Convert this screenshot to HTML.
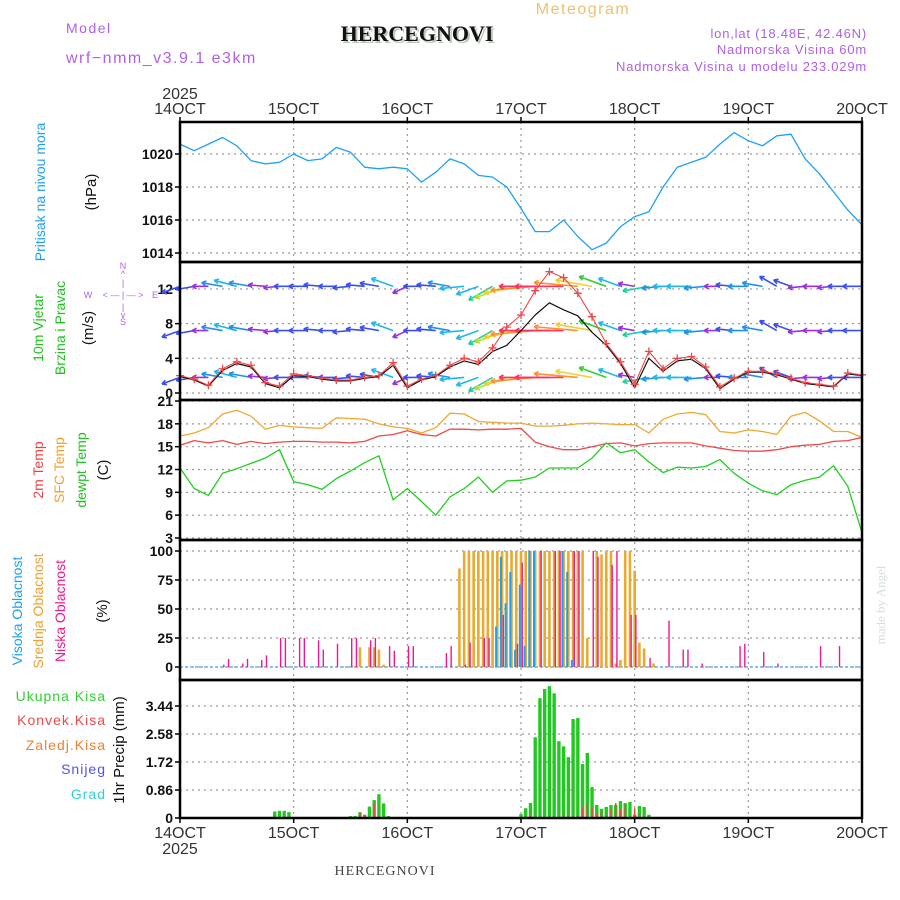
<!DOCTYPE html>
<html><head><meta charset="utf-8"><style>
body{margin:0;background:#fff;}
svg{display:block;font-family:"Liberation Sans",sans-serif;}
</style></head><body>
<svg id="chart" width="900" height="900" viewBox="0 0 900 900" xmlns="http://www.w3.org/2000/svg">
<rect x="0" y="0" width="900" height="900" fill="#fff"/>
<g id="texts">
<text x="66" y="33" font-size="14" fill="#b060e8" letter-spacing="1.5">Model</text>
<text x="66" y="63" font-size="16" fill="#b060e8" letter-spacing="1.5">wrf−nmm_v3.9.1 e3km</text>
<text x="419" y="43" font-size="22" font-weight="bold" font-family="Liberation Serif,serif" fill="#b8c8b8" text-anchor="middle">HERCEGNOVI</text>
<text x="417" y="41" font-size="22" font-weight="bold" font-family="Liberation Serif,serif" fill="#111" text-anchor="middle">HERCEGNOVI</text>
<text x="583" y="14" font-size="16" fill="#f0c070" text-anchor="middle" letter-spacing="1.5">Meteogram</text>
<text x="867" y="38" font-size="13" fill="#b060e8" text-anchor="end" letter-spacing="0.8">lon,lat (18.48E, 42.46N)</text>
<text x="867" y="54" font-size="13" fill="#b060e8" text-anchor="end" letter-spacing="0.8">Nadmorska Visina 60m</text>
<text x="867" y="71" font-size="13" fill="#b060e8" text-anchor="end" letter-spacing="0.8">Nadmorska Visina u modelu 233.029m</text>
<text x="180" y="99" font-size="16" fill="#333" text-anchor="middle">2025</text>
<text x="180" y="854" font-size="16" fill="#333" text-anchor="middle">2025</text>
<text x="385" y="875" font-size="14" font-family="Liberation Serif,serif" fill="#444" text-anchor="middle" letter-spacing="1">HERCEGNOVI</text>
<text transform="translate(885,605) rotate(-90)" font-size="13" font-family="Liberation Serif,serif" fill="#d8e0d8" text-anchor="middle">made by Angel</text>

<text transform="translate(45,192) rotate(-90)" font-size="14" fill="#20a0f0" text-anchor="middle">Pritisak na nivou mora</text>
<text transform="translate(96,192) rotate(-90)" font-size="15" fill="#111" text-anchor="middle">(hPa)</text>

<text transform="translate(43,328) rotate(-90)" font-size="14" fill="#20c020" text-anchor="middle">10m Vjetar</text>
<text transform="translate(65,328) rotate(-90)" font-size="14" fill="#20c020" text-anchor="middle">Brzina i Pravac</text>
<text transform="translate(93,328) rotate(-90)" font-size="15" fill="#111" text-anchor="middle">(m/s)</text>
<g fill="#b060e8" font-size="9" text-anchor="middle">
<text x="123" y="269">N</text><text x="123" y="277">^</text><text x="123" y="286">|</text>
<text x="88" y="298">W</text><text x="123" y="298">&lt; — | — &gt;</text><text x="155" y="298">E</text>
<text x="123" y="310">|</text><text x="123" y="318">v</text><text x="123" y="325">S</text>
</g>

<text transform="translate(43,470) rotate(-90)" font-size="14" fill="#f04040" text-anchor="middle">2m Temp</text>
<text transform="translate(64,470) rotate(-90)" font-size="14" fill="#f0a030" text-anchor="middle">SFC Temp</text>
<text transform="translate(86,470) rotate(-90)" font-size="14" fill="#20c020" text-anchor="middle">dewpt Temp</text>
<text transform="translate(108,470) rotate(-90)" font-size="15" fill="#111" text-anchor="middle">(C)</text>

<text transform="translate(22,611) rotate(-90)" font-size="14" fill="#20a0f0" text-anchor="middle">Visoka Oblacnost</text>
<text transform="translate(43,611) rotate(-90)" font-size="14" fill="#f0a030" text-anchor="middle">Srednja Oblacnost</text>
<text transform="translate(65,611) rotate(-90)" font-size="14" fill="#f01890" text-anchor="middle">Niska Oblacnost</text>
<text transform="translate(107,611) rotate(-90)" font-size="15" fill="#111" text-anchor="middle">(%)</text>

<g font-size="14" text-anchor="end" letter-spacing="1">
<text x="106" y="701" fill="#30d030">Ukupna Kisa</text>
<text x="106" y="725" fill="#f04848">Konvek.Kisa</text>
<text x="106" y="750" fill="#f08030">Zaledj.Kisa</text>
<text x="106" y="774" fill="#5050f0">Snijeg</text>
<text x="106" y="799" fill="#30d0d0">Grad</text>
</g>
<text transform="translate(124,750) rotate(-90)" font-size="15" fill="#111" text-anchor="middle">1hr Precip (mm)</text>
</g>
<g id="grid"></g>
<g id="marks"></g>
<g id="frames"></g>
</svg>
<script>
// ---------- data ----------
const dayLabels = ["14OCT","15OCT","16OCT","17OCT","18OCT","19OCT","20OCT"];
const pressTicks = [1014,1016,1018,1020];
const windTicks = [0,4,8,12];
const tempTicks = [3,6,9,12,15,18,21];
const cloudTicks = [0,25,50,75,100];
const precipTicks = [0,0.86,1.72,2.58,3.44];
// 3-hourly series (hour 0..144)
const pressure = [1020.6,1020.2,1020.6,1021.0,1020.5,1019.6,1019.4,1019.5,1020.0,1019.6,1019.7,1020.4,1020.1,1019.2,1019.1,1019.2,1019.1,1018.3,1018.9,1019.7,1019.4,1018.7,1018.6,1018.0,1016.7,1015.3,1015.3,1016.0,1015.0,1014.2,1014.6,1015.6,1016.2,1016.5,1018.0,1019.2,1019.5,1019.8,1020.6,1021.3,1020.8,1020.5,1021.1,1021.2,1019.7,1018.8,1017.7,1016.6,1015.7];
const windSpeed = [2.0,1.6,0.9,2.8,3.6,3.2,1.2,0.8,2.2,2.0,1.7,1.5,1.5,1.8,2.0,3.5,0.8,1.6,2.0,3.2,4.0,3.6,5.2,7.6,9.0,11.8,14.0,13.3,11.5,8.8,5.7,3.6,1.0,4.8,2.8,4.0,4.2,3.0,0.7,1.7,2.5,2.5,2.2,1.7,1.2,1.0,0.8,2.3,2.1];
const windSpeed2 = [1.9,1.5,0.8,2.6,3.4,3.0,1.1,0.6,2.0,1.9,1.6,1.4,1.4,1.7,1.9,3.2,0.6,1.5,1.9,3.0,3.7,3.3,4.8,5.5,7.2,9.0,10.4,9.6,8.9,7.0,5.5,3.4,0.6,4.0,2.5,3.7,3.9,2.8,0.5,1.6,2.4,2.4,2.1,1.6,1.1,0.9,0.7,2.2,2.0];
const windDir = [200,190,180,170,165,170,175,185,180,180,175,180,185,175,170,160,205,180,175,170,185,200,210,200,190,185,180,180,175,170,160,160,170,190,185,180,180,185,180,175,180,170,150,160,185,180,185,180,180];
const temp2m = [15.2,15.8,15.5,15.8,15.3,15.7,15.4,15.6,15.7,15.7,15.6,15.6,15.5,15.7,16.4,16.6,17.1,16.6,16.4,17.3,17.3,17.2,17.3,17.3,17.4,15.6,15.0,14.6,14.6,15.0,15.4,15.5,15.1,15.4,15.5,15.5,15.5,15.1,14.8,14.5,14.4,14.4,14.6,15.0,15.2,15.3,15.7,15.8,16.2];
const tempSfc = [16.4,16.8,17.5,19.3,19.8,19.0,17.3,17.8,17.6,17.5,17.4,18.8,18.7,18.6,18.0,17.6,17.4,16.8,17.5,19.4,19.3,18.3,18.2,18.1,18.1,17.7,17.7,17.8,18.0,18.1,18.0,17.9,17.9,16.8,18.6,19.3,19.5,19.2,17.0,16.8,17.2,17.0,16.6,19.0,19.5,18.4,17.0,17.0,16.2];
const dewpt = [12.2,9.5,8.6,11.5,12.1,12.8,13.5,14.6,10.4,10.0,9.4,10.8,11.8,12.9,13.8,8.0,9.5,7.8,6.0,8.4,9.5,11.0,9.0,10.5,10.6,11.0,12.2,12.2,12.2,13.5,15.5,14.2,14.6,13.0,11.6,12.3,12.2,12.4,13.3,11.5,10.2,9.2,8.7,10.0,10.6,11.0,12.5,9.8,3.7];
// hourly cloud (sparse: hour, percent)
const lowCloudHours = [9,10,13,14,17,18,21,22,25,26,29,30,33,36,37,40,41,44,45,48,49,56,57,60,61,64,65,68,71,72,76,79,80,83,84,87,88,91,92,95,96,99,103,106,107,110,118,119,123,126,135,139];
const lowCloudVals  = [2,7,3,7,6,10,25,25,25,25,23,15,20,25,25,23,25,18,14,18,18,12,18,2,21,25,25,45,20,90,100,100,100,100,100,100,95,88,100,45,45,8,40,15,15,3,18,20,13,3,18,18];
const midCloudHours = [38,40,41,42,43,59,60,61,62,63,64,65,66,67,68,69,70,71,72,73,74,75,76,77,78,79,80,81,82,83,84,85,86,88,89,90,91,92,93,94,95,96,97,98,100];
const midCloudVals  = [17,17,17,15,2,85,100,100,100,100,100,100,100,100,100,100,100,100,100,100,100,100,100,100,100,100,100,100,100,100,100,100,25,100,97,100,100,3,6,100,100,83,21,16,3];
const highCloudHours = [67,68,69,70,71,72,73,74,75,81,82,83];
const highCloudVals  = [35,95,55,82,15,71,18,100,100,100,82,6];
// hourly precipitation (sparse)
const precipHours = [20,21,22,23,24,33,36,37,38,39,40,41,42,43,44,72,73,74,75,76,77,78,79,80,81,82,83,84,85,86,87,88,89,90,91,92,93,94,95,96,97,98,99];
const precipTotal = [0.2,0.22,0.22,0.18,0.03,0.02,0.06,0.06,0.18,0.1,0.35,0.55,0.73,0.45,0.06,0.12,0.3,0.46,2.48,3.68,3.96,4.05,3.83,2.36,2.2,1.87,3.04,3.07,1.66,2.0,0.95,0.4,0.28,0.34,0.4,0.4,0.52,0.46,0.49,0.1,0.37,0.34,0.1];
const precipConv  = [0,0,0,0,0,0.02,0,0,0.17,0.1,0,0.45,0.05,0,0,0,0.03,0.1,0,0,0.03,0,0,0.03,0.12,0,0.06,0.06,0.34,0.43,0.3,0.15,0.2,0,0.25,0.46,0.25,0.4,0,0.3,0.15,0,0];

// ---------- axes ----------
const X0=180, X1=862, NH=144;
const NS="http://www.w3.org/2000/svg";
function xs(h){return X0 + h*(X1-X0)/NH;}
function yP(v){return 154 + (1020-v)*16.5;}
function yW(v){return 393 - v*8.67;}
function yT(v){return 538 - (v-3)*7.61;}
function yC(v){return 667 - v*1.16;}
function yR(v){return 818 - v*32.56;}
const panels=[[122,262],[262,400],[400,540],[540,680],[680,818]];
function mk(tag,attrs,parent){const e=document.createElementNS(NS,tag);for(const k in attrs)e.setAttribute(k,attrs[k]);parent.appendChild(e);return e;}
const grid=document.getElementById('grid'), marks=document.getElementById('marks'), frames=document.getElementById('frames');

dayLabels.forEach((lab,i)=>{
  const x=xs(i*24);
  if(i>0&&i<6){
    const l=mk('line',{x1:x,y1:122,x2:x,y2:818,stroke:'#999','stroke-dasharray':'2,4','stroke-width':1.2},grid);
    
    
  }
  const t=mk('text',{x:x,y:114,'font-size':16,fill:'#333','text-anchor':'middle'},grid);
  t.textContent=lab;
  
  
  const b=mk('text',{x:x,y:838,'font-size':16,fill:'#333','text-anchor':'middle'},grid);
  b.textContent=lab;
  
  
});
function hTicks(ticks,fy,fmt,name){
  ticks.forEach(v=>{
    const y=fy(v);
    const l=mk('line',{x1:X0,y1:y,x2:X1,y2:y,stroke:'#999','stroke-dasharray':'2,4','stroke-width':1.2},grid);
    
    
    mk('line',{x1:X0-5,y1:y,x2:X0,y2:y,stroke:'#000','stroke-width':1.5},grid);
    const t=mk('text',{x:X0-7,y:y+5,'font-size':14,'font-weight':'bold',fill:'#111','text-anchor':'end'},grid);
    t.textContent=fmt(v);
    
    
  });
}
hTicks(pressTicks,yP,v=>v,'pressure');
hTicks(windTicks,yW,v=>v,'wind');
hTicks(tempTicks,yT,v=>v,'temp');
hTicks(cloudTicks,yC,v=>v,'cloud');
hTicks(precipTicks,yR,v=>v===0?'0':v.toFixed(2),'precip');

// ---------- series ----------
function polyline(vals,fy,color,name,w){
  const pts=vals.map((v,i)=>xs(i*3).toFixed(1)+','+fy(v).toFixed(1)).join(' ');
  const p=mk('polyline',{points:pts,fill:'none',stroke:color,'stroke-width':w||1.3,'stroke-linejoin':'round'},marks);
  
  
  return p;
}
polyline(pressure,yP,'#1ea0f8','pressure-line');

function spdColor(s){
  if(s<1.5)return '#9a30e0'; if(s<2.5)return '#3a50f0'; if(s<3.5)return '#2090f0';
  if(s<4.5)return '#20b8e8'; if(s<5.5)return '#20d0a0'; if(s<7)return '#30d030';
  if(s<8.5)return '#b8e020'; if(s<10)return '#f0d030'; if(s<12)return '#ff9030'; return '#ff3060';
}
[12.3,7.2,1.8].forEach((rowV,ri)=>{
  const ry=yW(rowV);
  windSpeed.forEach((s,i)=>{
    const x=xs(i*3), a=windDir[i]*Math.PI/180, L=14+s*2.6;
    const ex=x+L*Math.cos(a), ey=ry-L*Math.sin(a);
    const c=spdColor(s);
    const g=mk('g',{stroke:c,'stroke-width':1.6,fill:'none'},marks);
    
    
    mk('line',{x1:x,y1:ry,x2:ex,y2:ey},g);
    const h=5;
    [0.5,-0.5].forEach(d=>{
      mk('line',{x1:ex,y1:ey,x2:ex+h*Math.cos(a+Math.PI+d),y2:ey-h*Math.sin(a+Math.PI+d)},g);
    });
  });
});
polyline(windSpeed2,yW,'#111','wind-speed-secondary-line',1.2);
polyline(windSpeed,yW,'#f04848','wind-speed-line',1.1);
windSpeed.forEach((s,i)=>{
  const x=xs(i*3), y=yW(s);
  const p=mk('path',{d:`M${x-4},${y}h8M${x},${y-4}v8`,stroke:'#f04848','stroke-width':1.3},marks);
  
  
});

polyline(tempSfc,yT,'#f0a830','sfc-temp-line');
polyline(temp2m,yT,'#f04848','temp-2m-line');
polyline(dewpt,yT,'#20d020','dewpoint-line');

const cb=mk('line',{x1:X0,y1:yC(0),x2:X1,y2:yC(0),stroke:'#40a8f0','stroke-width':1.2,'stroke-dasharray':'3,2'},marks);


function bars(hours,vals,fy,color,w,name,dx){
  hours.forEach((h,i)=>{
    const x=xs(h)+(dx||0), y=fy(vals[i]), y0=fy(0);
    const r=mk('rect',{x:x-w/2,y:y,width:w,height:Math.max(0,y0-y),fill:color},marks);
    
    
  });
}
bars(midCloudHours,midCloudVals,yC,'#e8aa30',2.6,'mid-cloud-bar',0);
bars(highCloudHours,highCloudVals,yC,'#1e9ff0',2,'high-cloud-bar',-1.2);
bars(lowCloudHours,lowCloudVals,yC,'#f01890',1.4,'low-cloud-bar',1.2);

bars(precipHours,precipTotal,yR,'#22c822',3.4,'total-precip-bar',0);
bars(precipHours,precipConv,yR,'#f04848',1.6,'convective-precip-bar',0);

panels.forEach((p,i)=>{
  const r=mk('rect',{x:X0,y:p[0],width:X1-X0,height:p[1]-p[0],fill:'none',stroke:'#000','stroke-width':2.5},frames);
  
  
});
for(let d=0;d<=6;d++){
  const x=xs(d*24);
  mk('line',{x1:x,y1:117,x2:x,y2:122,stroke:'#000','stroke-width':1.5},frames);
  mk('line',{x1:x,y1:818,x2:x,y2:823,stroke:'#000','stroke-width':1.5},frames);
}
</script>
</body></html>
